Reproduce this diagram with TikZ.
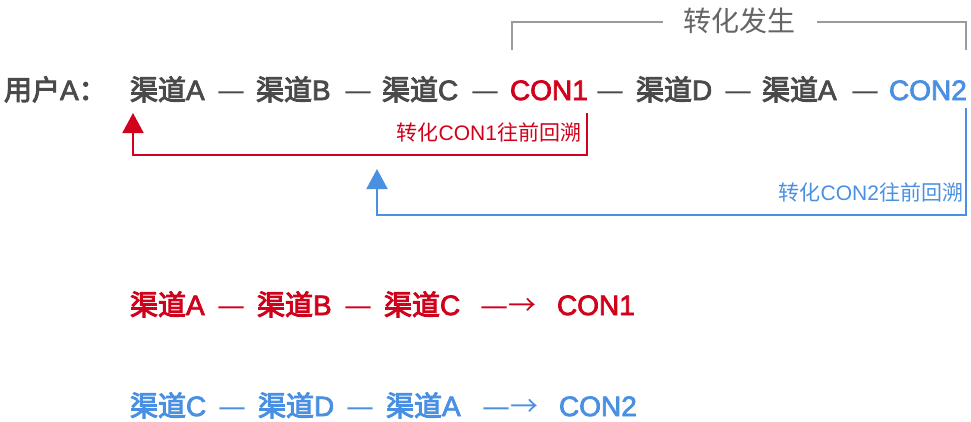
\documentclass[tikz,border=0pt]{standalone}
\usepackage{fontspec}
\setmainfont{Noto Sans CJK SC}
\newfontfamily\cjkreg{Noto Sans CJK SC}
\newfontfamily\cjkmed[FakeBold=3.5]{Noto Sans CJK SC}
\newfontfamily\latreg{Liberation Sans}
\newfontfamily\latmed[FakeBold=2.6]{Liberation Sans}
\newfontfamily\dashfont{DejaVu Sans}
\usetikzlibrary{arrows.meta}
\definecolor{cred}{HTML}{D0021B}
\definecolor{cblue}{HTML}{4A90E2}
\definecolor{cdark}{HTML}{4A4A4A}
\definecolor{cgray}{HTML}{9B9B9B}
\newcommand\qd[1]{{\cjkmed 渠道}{\latmed #1}}
\newcommand\dsh{{\dashfont —}}
\newcommand\larr{{\dashfont —}{\cjkreg →}}
\newcommand\lbltext[1]{{\cjkreg 转化}{\latreg CON#1}{\cjkreg 往前回溯}}
\tikzset{
  item/.style={inner sep=0pt, outer sep=0pt, anchor=base west, text depth=0pt, font=\fontsize{28}{28}\selectfont},
  lbl/.style={inner sep=0pt, outer sep=0pt, anchor=base east, font=\fontsize{21}{21}\selectfont},
  ttl/.style={inner sep=0pt, outer sep=0pt, font=\cjkreg\fontsize{28}{28}\selectfont, text=cdark!85},
  back/.style={line width=2pt, -{Triangle[width=21pt,length=20pt]}},
  brk/.style={line width=2pt, cgray}
}
\begin{document}
\begin{tikzpicture}[x=1pt,y=-1pt]
\useasboundingbox (0,0) rectangle (971,421);
% row 1
\begin{scope}[every node/.style={item, text=cdark}]
\node (user) at (4,100) {{\cjkmed 用户}{\latmed A}{\cjkmed ：}};
\node (a1) at (130,100) {\qd{A}};
\node (d1) at (217,100) {\dsh};
\node (b1) at (256,100) {\qd{B}};
\node (d2) at (344,100) {\dsh};
\node (c1) at (382,100) {\qd{C}};
\node (d3) at (471,100) {\dsh};
\node[text=cred] (con1) at (510,100) {\latmed CON1};
\node (d4) at (596,100) {\dsh};
\node (dd1) at (636,100) {\qd{D}};
\node (d5) at (724,100) {\dsh};
\node (a2) at (762,100) {\qd{A}};
\node (d6) at (851,100) {\dsh};
\node[text=cblue] (con2) at (889,100) {\latmed CON2};
\end{scope}
% bracket
\node[ttl] (happen) at (739,21) {转化发生};
\coordinate (bl) at (512,50);
\coordinate (br) at (966,50);
\draw[brk] (bl) -- (512,21.5) -- (663,21.5);
\draw[brk] (817,21.5) -- (966,21.5) -- (br);
% back arrows
\coordinate (r0) at (587,113);
\coordinate (r1) at (133,113);
\draw[back, cred] (r0) -- (587,155) -- (133,155) -- (r1);
\node[lbl, text=cred] (lred) at (581,140) {\lbltext{1}};
\coordinate (b0) at (966,108);
\coordinate (bb1) at (377,169);
\draw[back, cblue] (b0) -- (966,215) -- (377,215) -- (bb1);
\node[lbl, text=cblue] (lblue) at (963,200) {\lbltext{2}};
% row 2
\begin{scope}[every node/.style={item, text=cred}]
\node (ra) at (130,315) {\qd{A}};
\node (rd1) at (217,315) {\dsh};
\node (rb) at (257,315) {\qd{B}};
\node (rd2) at (344,315) {\dsh};
\node (rc) at (384,315) {\qd{C}};
\node (rarr) at (480,315) {\larr};
\node (rcon) at (557,315) {\latmed CON1};
\end{scope}
% row 3
\begin{scope}[every node/.style={item, text=cblue}]
\node (bc) at (130,416) {\qd{C}};
\node (bd1) at (218,416) {\dsh};
\node (bd) at (258,416) {\qd{D}};
\node (bd2) at (346,416) {\dsh};
\node (ba) at (386,416) {\qd{A}};
\node (barr) at (482,416) {\larr};
\node (bcon) at (559,416) {\latmed CON2};
\end{scope}
\end{tikzpicture}
\end{document}
